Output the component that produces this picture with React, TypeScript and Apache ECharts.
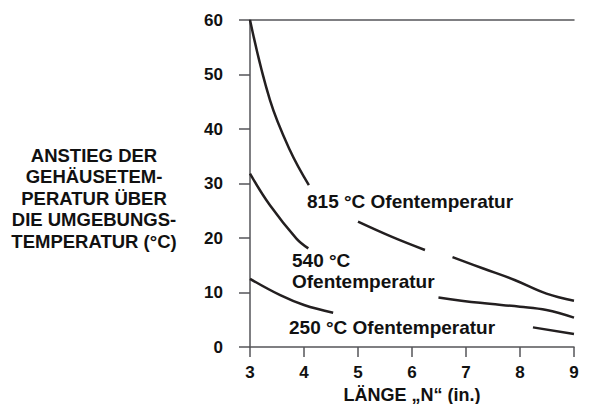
import React, { useEffect, useRef } from "react";
import * as echarts from "echarts";

const xTicks = [3, 4, 5, 6, 7, 8, 9];
const yTicks = [0, 10, 20, 30, 40, 50, 60];

// null breaks the curve where the labels sit
const curve815: (number | null)[][] = [
  [3, 60], [3.37, 45.3], [3.74, 36.1], [4.09, 29.7],
  [4.5, null],
  [5.0, 23.0], [5.63, 20.2], [6.24, 17.8],
  [6.5, null],
  [6.75, 16.5], [7.32, 14.4], [7.9, 12.3], [8.49, 9.8], [9, 8.5],
];
const curve540: (number | null)[][] = [
  [3, 31.8], [3.37, 26.0], [3.86, 19.9], [4.08, 18.1],
  [5.0, null],
  [6.49, 9.1], [7.26, 8.1], [8.0, 7.4], [8.49, 6.8], [9, 5.4],
];
const curve250: (number | null)[][] = [
  [3, 12.5], [3.56, 9.5], [4.0, 7.7], [4.54, 6.3],
  [6.0, null],
  [8.24, 3.6], [9, 2.4],
];

const yTitleLines = [
  "ANSTIEG DER",
  "GEHÄUSETEM-",
  "PERATUR ÜBER",
  "DIE UMGEBUNGS-",
  "TEMPERATUR (°C)",
];
const xTitle = "LÄNGE „N“ (in.)";
const labels = [
  { text: "815 °C Ofentemperatur", x: 307, y: 201 },
  { text: "540 °C\nOfentemperatur", x: 292, y: 271 },
  { text: "250 °C Ofentemperatur", x: 289, y: 327 },
];

const FONT = "'Liberation Sans', Arial, sans-serif";
const AXIS = "#555558";
const INK = "#231f20";

export default function App() {
  const ref = useRef<HTMLDivElement>(null);
  useEffect(() => {
    if (!ref.current) return;
    const chart = echarts.init(ref.current, undefined, { renderer: "svg" });
    const lineSeries = (data: (number | null)[][]) => ({
      type: "line",
      data,
      smooth: 0.4,
      showSymbol: false,
      connectNulls: false,
      lineStyle: { color: INK, width: 2.5 },
      silent: true,
    });
    chart.setOption({
      animation: false,
      backgroundColor: "#ffffff",
      grid: { left: 250, right: 17, top: 20, bottom: 57, outerBoundsMode: "none", containLabel: false },
      xAxis: [
        {
          type: "value",
          min: 3,
          max: 9,
          interval: 1,
          position: "bottom",
          axisLine: { show: true, lineStyle: { color: AXIS, width: 1.5 } },
          axisTick: { show: true, length: 10, inside: false, lineStyle: { color: AXIS, width: 1.5 } },
          axisLabel: {
            margin: 17,
            fontFamily: FONT,
            fontWeight: "bold",
            fontSize: 17,
            color: "#111",
            customValues: xTicks,
          },
          splitLine: { show: false },
          name: xTitle,
          nameLocation: "middle",
          nameGap: 35,
          nameTextStyle: { fontFamily: FONT, fontWeight: "bold", fontSize: 18, lineHeight: 18, color: "#111" },
        },
        {
          type: "value",
          min: 3,
          max: 9,
          position: "top",
          axisLine: { show: true, lineStyle: { color: AXIS, width: 1.5 } },
          axisTick: { show: false },
          axisLabel: { show: false },
          splitLine: { show: false },
        },
      ],
      yAxis: {
        type: "value",
        min: 0,
        max: 60,
        interval: 10,
        axisLine: { show: true, lineStyle: { color: AXIS, width: 1.5 } },
        axisTick: { show: true, length: 11, inside: false, lineStyle: { color: AXIS, width: 1.5 } },
        axisLabel: {
          margin: 27,
          fontFamily: FONT,
          fontWeight: "bold",
          fontSize: 17,
          color: "#111",
          customValues: yTicks,
        },
        splitLine: { show: false },
      },
      series: [lineSeries(curve815), lineSeries(curve540), lineSeries(curve250)],
      graphic: [
        {
          type: "text",
          x: 94,
          y: 198,
          style: {
            text: yTitleLines.join("\n"),
            fontFamily: FONT,
            fontWeight: "bold",
            fontSize: 18.5,
            lineHeight: 21.5,
            fill: "#111",
            align: "center",
            verticalAlign: "middle",
          },
        },
        ...labels.map((l) => ({
          type: "text",
          x: l.x,
          y: l.y,
          style: {
            text: l.text,
            fontFamily: FONT,
            fontWeight: "bold",
            fontSize: 19,
            lineHeight: 21,
            fill: "#111",
            align: "left",
            verticalAlign: "middle",
          },
        })),
      ],
    });
    return () => chart.dispose();
  }, []);
  return <div ref={ref} style={{ width: 591, height: 404, position: "absolute", left: 0, top: 0 }} />;
}
